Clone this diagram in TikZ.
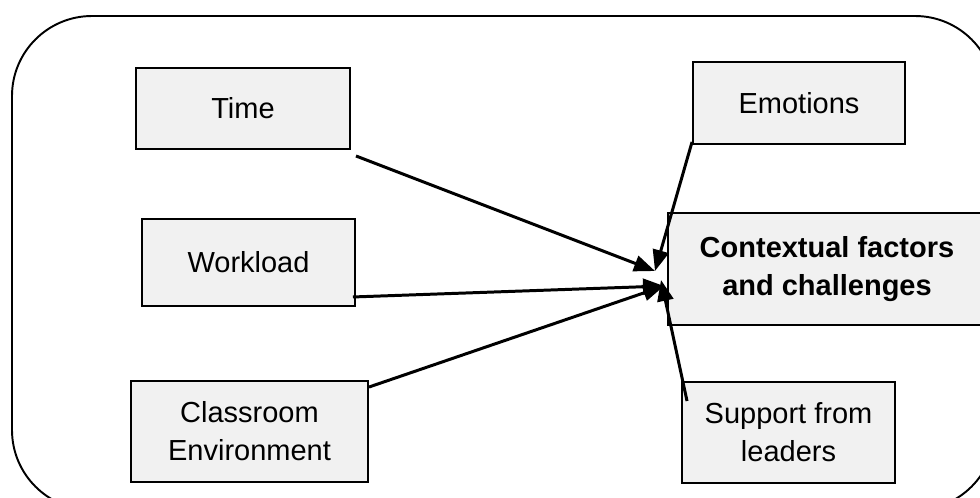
\documentclass[tikz,border=0pt]{standalone}
\usepackage{fontspec}
\setmainfont{Liberation Sans}
\usepackage{tikz}
\usetikzlibrary{arrows.meta,positioning}
\definecolor{boxgray}{HTML}{F1F1F1}

\tikzset{
  factor/.style={draw, line width=1.1pt, fill=boxgray, inner sep=0pt, align=center,
    font=\fontsize{16.5}{21.5}\selectfont},
  link/.style={line width=1.7pt, -{Triangle[length=4.2mm,width=3.2mm]}},
  plain/.style={line width=1.7pt}
}

\begin{document}
\begin{tikzpicture}[x=0.2mm,y=-0.2mm]
\useasboundingbox (0,0) rectangle (980,497);
% outer frame
\draw[line width=1.1pt, rounded corners=16mm] (12,16) rectangle (995,510);
% factor boxes
\node[factor, minimum width=42.8mm, minimum height=16.2mm] (time) at (243,108.5) {Time};
\node[factor, minimum width=42.6mm, minimum height=17.4mm] (work) at (248.5,262.5) {Workload};
\node[factor, minimum width=47.4mm, minimum height=20.2mm] (room) at (249.5,431.5) {Classroom\\Environment};
\node[factor, minimum width=42.4mm, minimum height=16.4mm] (emo) at (799,103) {Emotions};
\node[factor, minimum width=63.6mm, minimum height=22.4mm, font=\fontsize{16.5}{21.5}\selectfont\bfseries] (ctx) at (827,269) {Contextual factors\\and challenges};
\node[factor, minimum width=42.6mm, minimum height=20.2mm] (lead) at (788.5,432.5) {Support from\\leaders};
% meeting points
\coordinate (hubA) at (655,271);
\coordinate (hubB) at (664,286);
\coordinate (hubC) at (661,280);
% connectors
\draw[link] ([xshift=1mm,yshift=-1.2mm]time.south east) -- (hubA);
\draw[link] ([xshift=-0.6mm,yshift=2mm]work.south east) -- (hubB);
\draw[link] ([yshift=-1.4mm]room.north east) -- (hubB);
\draw[link] ([yshift=0.6mm]emo.south west) -- (hubA);
\draw[link] ([xshift=1.2mm,yshift=-4mm]lead.north west) -- (hubC);
\end{tikzpicture}
\end{document}
